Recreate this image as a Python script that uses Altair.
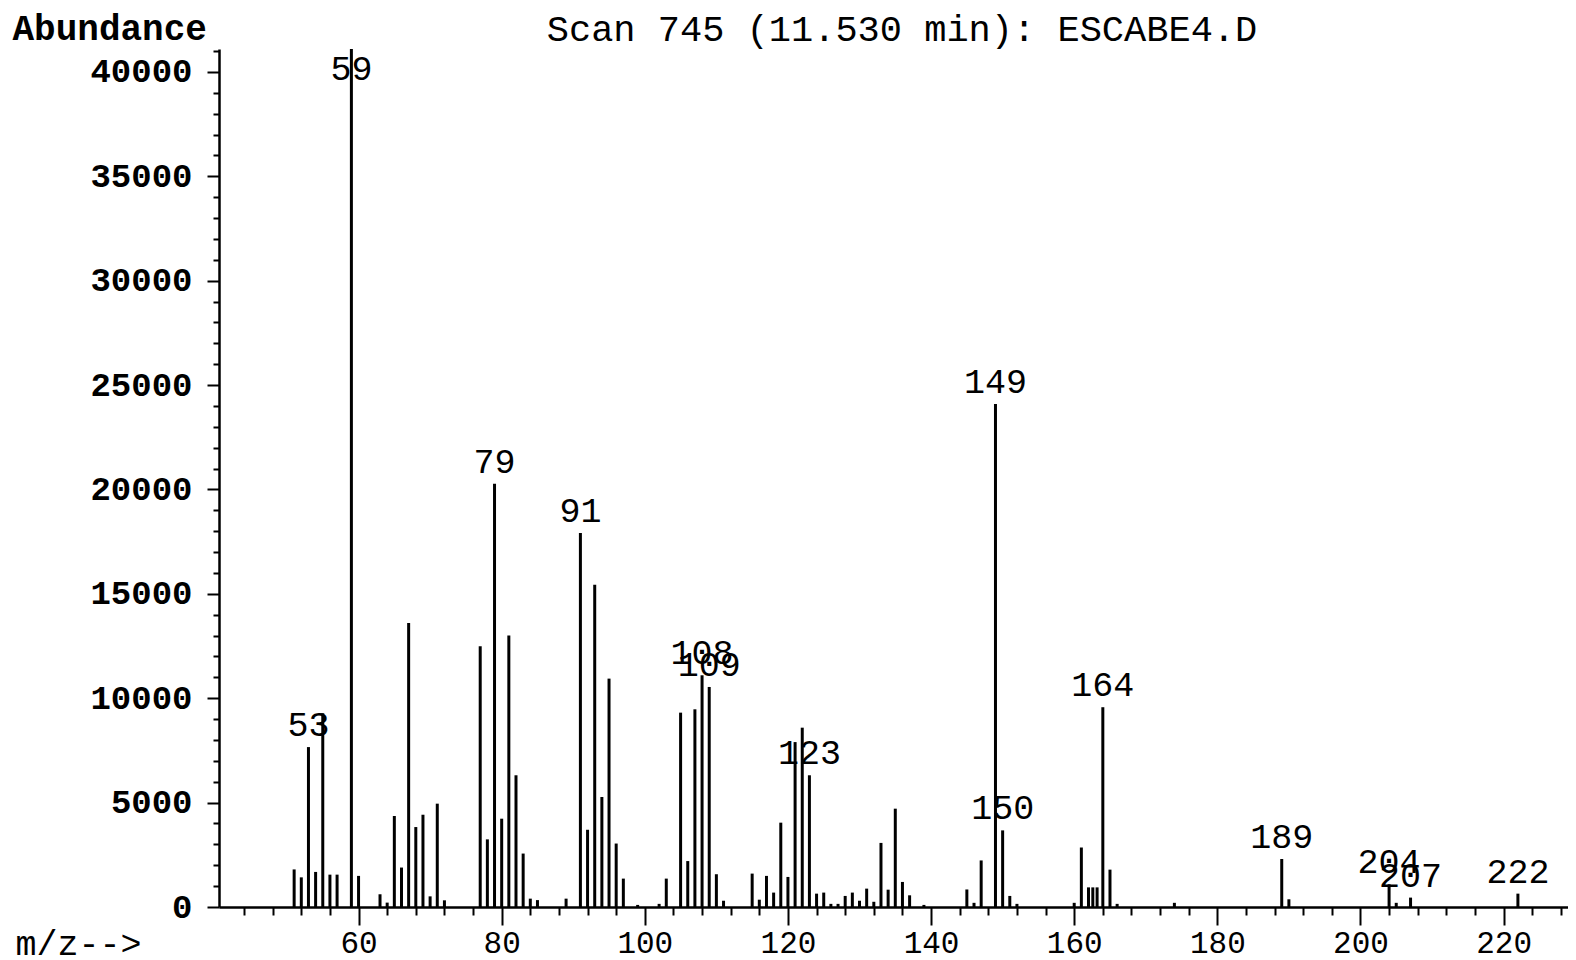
import altair as alt
import pandas as pd

# ---- data ----
mz = [51, 52, 53, 54, 55, 56, 57, 59, 60, 63, 64, 65, 66, 67, 68, 69, 70, 71, 72,
      77, 78, 79, 80, 81, 82, 83, 84, 85, 89, 91, 92, 93, 94, 95, 96, 97, 99,
      102, 103, 105, 106, 107, 108, 109, 110, 111, 115, 116, 117, 118, 119, 120,
      121, 122, 123, 124, 125, 126, 127, 128, 129, 130, 131, 132, 133, 134, 135,
      136, 137, 139, 145, 146, 147, 149, 150, 151, 152, 160, 161, 162, 162.6,
      163.2, 164, 165, 166, 174, 189, 190, 204, 205, 207, 222]
abundance = [1800, 1420, 7660, 1680, 9280, 1550, 1550, 41100, 1490, 610, 210, 4360,
             1890, 13600, 3830, 4420, 510, 4950, 320,
             12490, 3240, 20280, 4230, 13010, 6310, 2560, 400, 330, 400, 17910, 3700,
             15440, 5270, 10940, 3040, 1360, 100,
             150, 1360, 9310, 2200, 9470, 11100, 10540, 1570, 300, 1600, 350, 1490,
             690, 4040, 1440,
             7900, 8590, 6310, 640, 690, 150, 150, 530, 690, 300, 880, 250, 3070, 830,
             4710, 1200, 560, 100, 840, 200, 2230, 24100, 3670, 530, 150, 200, 2850,
             940, 940, 940, 9570, 1790, 150, 200, 2300, 370, 1090, 200, 450, 640]
label_mz = [53, 59, 79, 91, 108, 109, 123, 149, 150, 164, 189, 204, 207, 222]

title_text = "Scan 745 (11.530 min): ESCABE4.D"
y_title = "Abundance"
x_title = "m/z-->"

y_tick_values = list(range(0, 41001, 1000))
x_tick_values = list(range(44, 229, 4))

# ---- build tables ----
df = pd.DataFrame({"mz": mz, "abundance": abundance})
lab = df[df["mz"].isin(label_mz)].copy()
lab["text"] = lab["mz"].map(lambda v: str(int(v)))

FONT = "Liberation Mono"
W, H = 1349, 858
x_scale = alt.Scale(domain=[40.5, 229], nice=False, zero=False)
y_scale = alt.Scale(domain=[0, 41100], nice=False)

x_axis = alt.Axis(
    values=x_tick_values,
    format="d",
    labelExpr="datum.value % 20 === 0 ? datum.label : ''",
    labelOverlap=False,
    labelFont=FONT, labelFontSize=31, labelColor="black", labelPadding=3,
    labelFlush=False,
    tickSize=18, tickWidth=2, tickColor="black",
    tickDash={"condition": {"test": "datum.value % 20 !== 0", "value": [8, 40]}, "value": [40, 0]},
    domainColor="black", domainWidth=2.5,
    grid=False,
    title=x_title, titleFont=FONT, titleFontSize=35, titleFontWeight="normal",
    titleColor="black", titleAngle=0, titleAlign="left", titleBaseline="middle",
    titleX=-204, titleY=36,
)
y_axis = alt.Axis(
    values=y_tick_values,
    format="d",
    labelExpr="datum.value % 5000 === 0 ? datum.label : ''",
    labelOverlap=False,
    labelFont=FONT, labelFontSize=34, labelFontWeight="bold", labelColor="black",
    labelPadding=15, labelBaseline="middle",
    labelFlush=False,
    tickSize=12, tickWidth=2, tickColor="black",
    tickDash={"condition": {"test": "datum.value % 5000 !== 0", "value": [6, 30]}, "value": [30, 0]},
    domainColor="black", domainWidth=2.5,
    grid=False,
    title=y_title, titleFont=FONT, titleFontSize=36, titleFontWeight="bold",
    titleColor="black", titleAngle=0, titleAlign="left", titleBaseline="middle",
    titleX=-207, titleY=-21,
)

bars = alt.Chart(df).mark_rule(color="black", strokeWidth=3).encode(
    x=alt.X("mz:Q", scale=x_scale, axis=x_axis),
    y=alt.Y("abundance:Q", scale=y_scale, axis=y_axis),
    y2=alt.Y2(datum=0),
)

labels = alt.Chart(lab).transform_calculate(
    label_y="min(datum.abundance, 39070)"
).mark_text(
    font=FONT, fontSize=35, color="black", align="center", baseline="alphabetic", dy=-11
).encode(
    x=alt.X("mz:Q", scale=x_scale, axis=x_axis),
    y=alt.Y("label_y:Q", scale=y_scale, axis=y_axis),
    text="text:N",
)

header = alt.Chart(pd.DataFrame({"t": [title_text]})).mark_text(
    font=FONT, fontSize=37, color="black", align="center", baseline="middle"
).encode(
    x=alt.value(683), y=alt.value(-19), text="t:N"
)

chart = alt.layer(bars, labels, header).properties(
    width=W, height=H,
    padding={"left": 211, "top": 41, "right": 0, "bottom": 53},
    autosize=alt.AutoSizeParams(type="none"),
    background="white",
).configure_view(stroke=None)

chart.save("out.html", embed_options={"renderer": "svg", "actions": False})
